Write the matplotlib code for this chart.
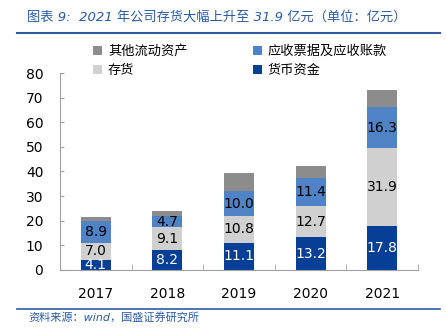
import matplotlib
matplotlib.use("Agg")
import matplotlib.pyplot as plt
import numpy as np

plt.rcParams['font.family'] = ['DejaVu Sans', 'Noto Sans CJK SC']

years = ["2017", "2018", "2019", "2020", "2021"]
cash = [4.1, 8.2, 11.1, 13.2, 17.8]
inventory = [7.0, 9.1, 10.8, 12.7, 31.9]
receivables = [8.9, 4.7, 10.0, 11.4, 16.3]
other = [1.5, 2.1, 7.6, 5.1, 7.1]

names = ["货币资金", "存货", "应收票据及应收账款", "其他流动资产"]
colors = ["#073F97", "#D0D0D0", "#4F83C6", "#8C8C8C"]
label_colors = ["white", "black", "black", None]

cjk = ['Noto Sans CJK SC', 'DejaVu Sans']
latin_first = ['DejaVu Sans', 'Noto Sans CJK SC']

fig = plt.figure(figsize=(4.46, 3.32), dpi=100)
ax = fig.add_axes([0.1345, 0.187, 0.803, 0.593])

x = np.arange(len(years))
bottom = np.zeros(len(years))
bars = {}
for series, name, c, lc in zip([cash, inventory, receivables, other], names, colors, label_colors):
    vals = np.array(series)
    b = ax.bar(x, vals, 0.42, bottom=bottom, color=c, label=name, zorder=2)
    bars[name] = b
    if lc is not None:
        for xi, bo, v in zip(x, bottom, vals):
            ax.text(xi, bo + v / 2, f"{v:.1f}", ha="center", va="center",
                    fontsize=10, color=lc, zorder=3)
    bottom += vals

ax.set_xlim(-0.5, len(years) - 0.5)
ax.set_ylim(0, 80)
ax.set_yticks(range(0, 81, 10))
ax.set_xticks(x)
ax.set_xticklabels(years)
ax.tick_params(axis="x", length=0, labelsize=10, pad=12)
ax.tick_params(axis="y", length=3, direction="in", color="#A0A0A0", labelsize=10, pad=12)
ax.set_xticks(np.arange(-0.5, len(years), 1), minor=True)
ax.tick_params(axis="x", which="minor", length=4, color="#A0A0A0", direction="in")
for s in ["top", "right"]:
    ax.spines[s].set_visible(False)
for s in ["left", "bottom"]:
    ax.spines[s].set_color("#A0A0A0")

handles = [bars["其他流动资产"], bars["存货"], bars["应收票据及应收账款"], bars["货币资金"]]
labels = ["其他流动资产", "存货", "应收票据及应收账款", "货币资金"]
fig.legend(handles, labels, ncol=2, loc="upper left", bbox_to_anchor=(0.183, 0.9),
           frameon=False, prop={"family": cjk, "size": 9.5}, handlelength=0.65,
           handleheight=0.65, handletextpad=0.45, columnspacing=5.0, labelspacing=0.45)

fig.text(0.06, 0.948, "图表 9:  2021 年公司存货大幅上升至 31.9 亿元（单位：亿元）",
         fontsize=9.5, color="#2A5AA6", style="italic", family=latin_first, va="center")
fig.add_artist(plt.Line2D([0.038, 0.986], [0.9, 0.9], color="#2E5C9E", lw=1.5))
fig.add_artist(plt.Line2D([0.038, 0.986], [0.069, 0.069], color="#2E5C9E", lw=1.2))
fig.text(0.063, 0.043, "资料来源：wind，国盛证券研究所", fontsize=8, color="#2A5AA6",
         style="italic", family=latin_first, va="center")

fig.savefig("out.png", dpi=100)
